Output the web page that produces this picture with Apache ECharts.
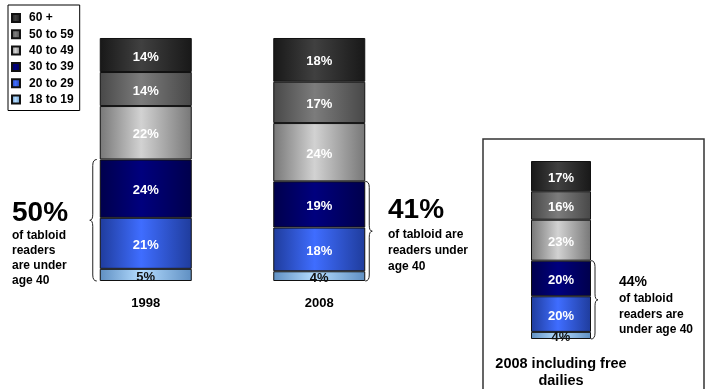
<!DOCTYPE html>
<html>
<head>
<meta charset="utf-8">
<script src="https://cdn.jsdelivr.net/npm/echarts@6/dist/echarts.min.js"></script>
<style>
    html, body { margin: 0; padding: 0; background: #fff; }
    #main { width: 710px; height: 389px; }
</style>
</head>
<body>
<div id="main"></div>
<script>
// 数据
var ageGroups = ['18 to 19', '20 to 29', '30 to 39', '40 to 49', '50 to 59', '60 +'];
var years = ['1998', '2008'];
var share1998 = [5, 21, 24, 22, 14, 14];
var share2008 = [4, 18, 19, 24, 17, 18];
var freeLabel = ['2008 including free\ndailies'];
var shareFree = [4, 20, 20, 23, 16, 17];
var under40Groups = 3; // 18-19, 20-29, 30-39

var FONT = '"Liberation Sans", Arial, sans-serif';

// 每组颜色 (左右暗, 中间亮)
var palette = [
    ['#5f8fc2', '#b4dcff', '#5f8fc2'],
    ['#1f3c9c', '#3f6dff', '#1f3c9c'],
    ['#00004c', '#00007e', '#00004c'],
    ['#777777', '#d2d2d2', '#777777'],
    ['#484848', '#7c7c7c', '#484848'],
    ['#181818', '#404040', '#181818']
];

function grad(c) {
    return new echarts.graphic.LinearGradient(0, 0, 1, 0, [
        {offset: 0, color: c[0]},
        {offset: 0.45, color: c[1]},
        {offset: 1, color: c[2]}
    ]);
}

function sum(arr, n) {
    var s = 0;
    for (var i = 0; i < n; i++) { s += arr[i]; }
    return s;
}

var series = [];
for (var i = 0; i < ageGroups.length; i++) {
    var lbl = {
        show: true,
        position: 'inside',
        formatter: '{c}%',
        color: i === 0 ? '#111' : '#fff',
        fontWeight: 'bold',
        fontSize: 13,
        fontFamily: FONT,
        offset: i === 0 ? [0, 2] : [0, 2]
    };
    var style = {color: grad(palette[i]), borderColor: '#111', borderWidth: 1};
    series.push({
        name: ageGroups[i], type: 'bar', stack: 'main',
        xAxisIndex: 0, yAxisIndex: 0, barWidth: 92,
        itemStyle: style, label: lbl,
        data: [share1998[i], share2008[i]]
    });
    series.push({
        name: ageGroups[i], type: 'bar', stack: 'free',
        xAxisIndex: 1, yAxisIndex: 1, barWidth: 60,
        itemStyle: style, label: lbl,
        data: [shareFree[i]]
    });
}

var chart = echarts.init(document.getElementById('main'));

var option = {
    animation: false,
    backgroundColor: '#fff',
    legend: {
        orient: 'vertical',
        left: 8, top: 5,
        padding: [7, 6, 5, 3],
        borderColor: '#000', borderWidth: 1,
        itemWidth: 8, itemHeight: 8, itemGap: 4.3,
        icon: 'rect',
        data: ageGroups.slice().reverse(),
        textStyle: {fontFamily: FONT, fontWeight: 'bold', fontSize: 12, color: '#000', lineHeight: 12, padding: [0, 0, 0, 4]}
    },
    grid: [
        {left: 59, width: 347, top: 38, height: 243},
        {left: 531, width: 60, top: 161, height: 179}
    ],
    xAxis: [
        {
            type: 'category', gridIndex: 0, data: years,
            axisLine: {show: false}, axisTick: {show: false},
            axisLabel: {margin: 16, color: '#000', fontWeight: 'bold', fontSize: 13, fontFamily: FONT}
        },
        {
            type: 'category', gridIndex: 1, data: freeLabel,
            axisLine: {show: false}, axisTick: {show: false},
            axisLabel: {margin: 16, color: '#000', fontWeight: 'bold', fontSize: 14.5, lineHeight: 17, fontFamily: FONT}
        }
    ],
    yAxis: [
        {type: 'value', gridIndex: 0, min: 0, max: 100, show: false},
        {type: 'value', gridIndex: 1, min: 0, max: 100, show: false}
    ],
    series: series
};
chart.setOption(option);

// 大括号 (直线 + 二次曲线)
function brace(x, y1, y2, dir) {
    var w = 4, r = 6, ym = (y1 + y2) / 2;
    var ls = {stroke: '#222', lineWidth: 1, fill: null};
    function curve(ax, ay, bx, by, cx, cy) {
        return {type: 'bezierCurve', silent: true, style: ls,
            shape: {x1: ax, y1: ay, x2: bx, y2: by, cpx1: cx, cpy1: cy}};
    }
    function line(ax, ay, bx, by) {
        return {type: 'line', silent: true, style: ls,
            shape: {x1: ax, y1: ay, x2: bx, y2: by}};
    }
    return [
        curve(x - dir * w, y1, x, y1 + r, x, y1),
        line(x, y1 + r, x, ym - r),
        curve(x, ym - r, x + dir * 3, ym, x, ym),
        curve(x + dir * 3, ym, x, ym + r, x, ym),
        line(x, ym + r, x, y2 - r),
        curve(x, y2 - r, x - dir * w, y2, x, y2)
    ];
}

function txt(x, y, s, size, lh) {
    return {
        type: 'text', x: x, y: y, silent: true,
        style: {text: s, fill: '#000', font: 'bold ' + size + 'px ' + FONT, lineHeight: lh || size, verticalAlign: 'top'}
    };
}

var p98Bot = chart.convertToPixel({xAxisIndex: 0, yAxisIndex: 0}, [0, 0]);
var p98Top = chart.convertToPixel({xAxisIndex: 0, yAxisIndex: 0}, [0, sum(share1998, under40Groups)]);
var p08Bot = chart.convertToPixel({xAxisIndex: 0, yAxisIndex: 0}, [1, 0]);
var p08Top = chart.convertToPixel({xAxisIndex: 0, yAxisIndex: 0}, [1, sum(share2008, under40Groups)]);
var pFrBot = chart.convertToPixel({xAxisIndex: 1, yAxisIndex: 1}, [0, 0]);
var pFrTop = chart.convertToPixel({xAxisIndex: 1, yAxisIndex: 1}, [0, sum(shareFree, under40Groups)]);

var extras = [
    {type: 'rect', shape: {x: 483, y: 139, width: 221, height: 262}, style: {fill: null, stroke: '#333', lineWidth: 1.5}, silent: true},
    txt(12, 199, sum(share1998, under40Groups) + '%', 28),
    txt(12, 228, 'of tabloid\nreaders\nare under\nage 40', 12, 15),
    txt(388, 196, sum(share2008, under40Groups) + '%', 28),
    txt(388, 227, 'of tabloid are\nreaders under\nage 40', 12, 16),
    txt(619, 275, sum(shareFree, under40Groups) + '%', 14),
    txt(619, 291, 'of tabloid\nreaders are\nunder age 40', 12, 15.5)
];
extras = extras
    .concat(brace(p98Bot[0] - 46 - 7, p98Top[1], p98Bot[1], -1))
    .concat(brace(p08Bot[0] + 46 + 4, p08Top[1], p08Bot[1], 1))
    .concat(brace(pFrBot[0] + 30 + 4, pFrTop[1], pFrBot[1], 1));

chart.setOption({graphic: extras});
</script>
</body>
</html>
